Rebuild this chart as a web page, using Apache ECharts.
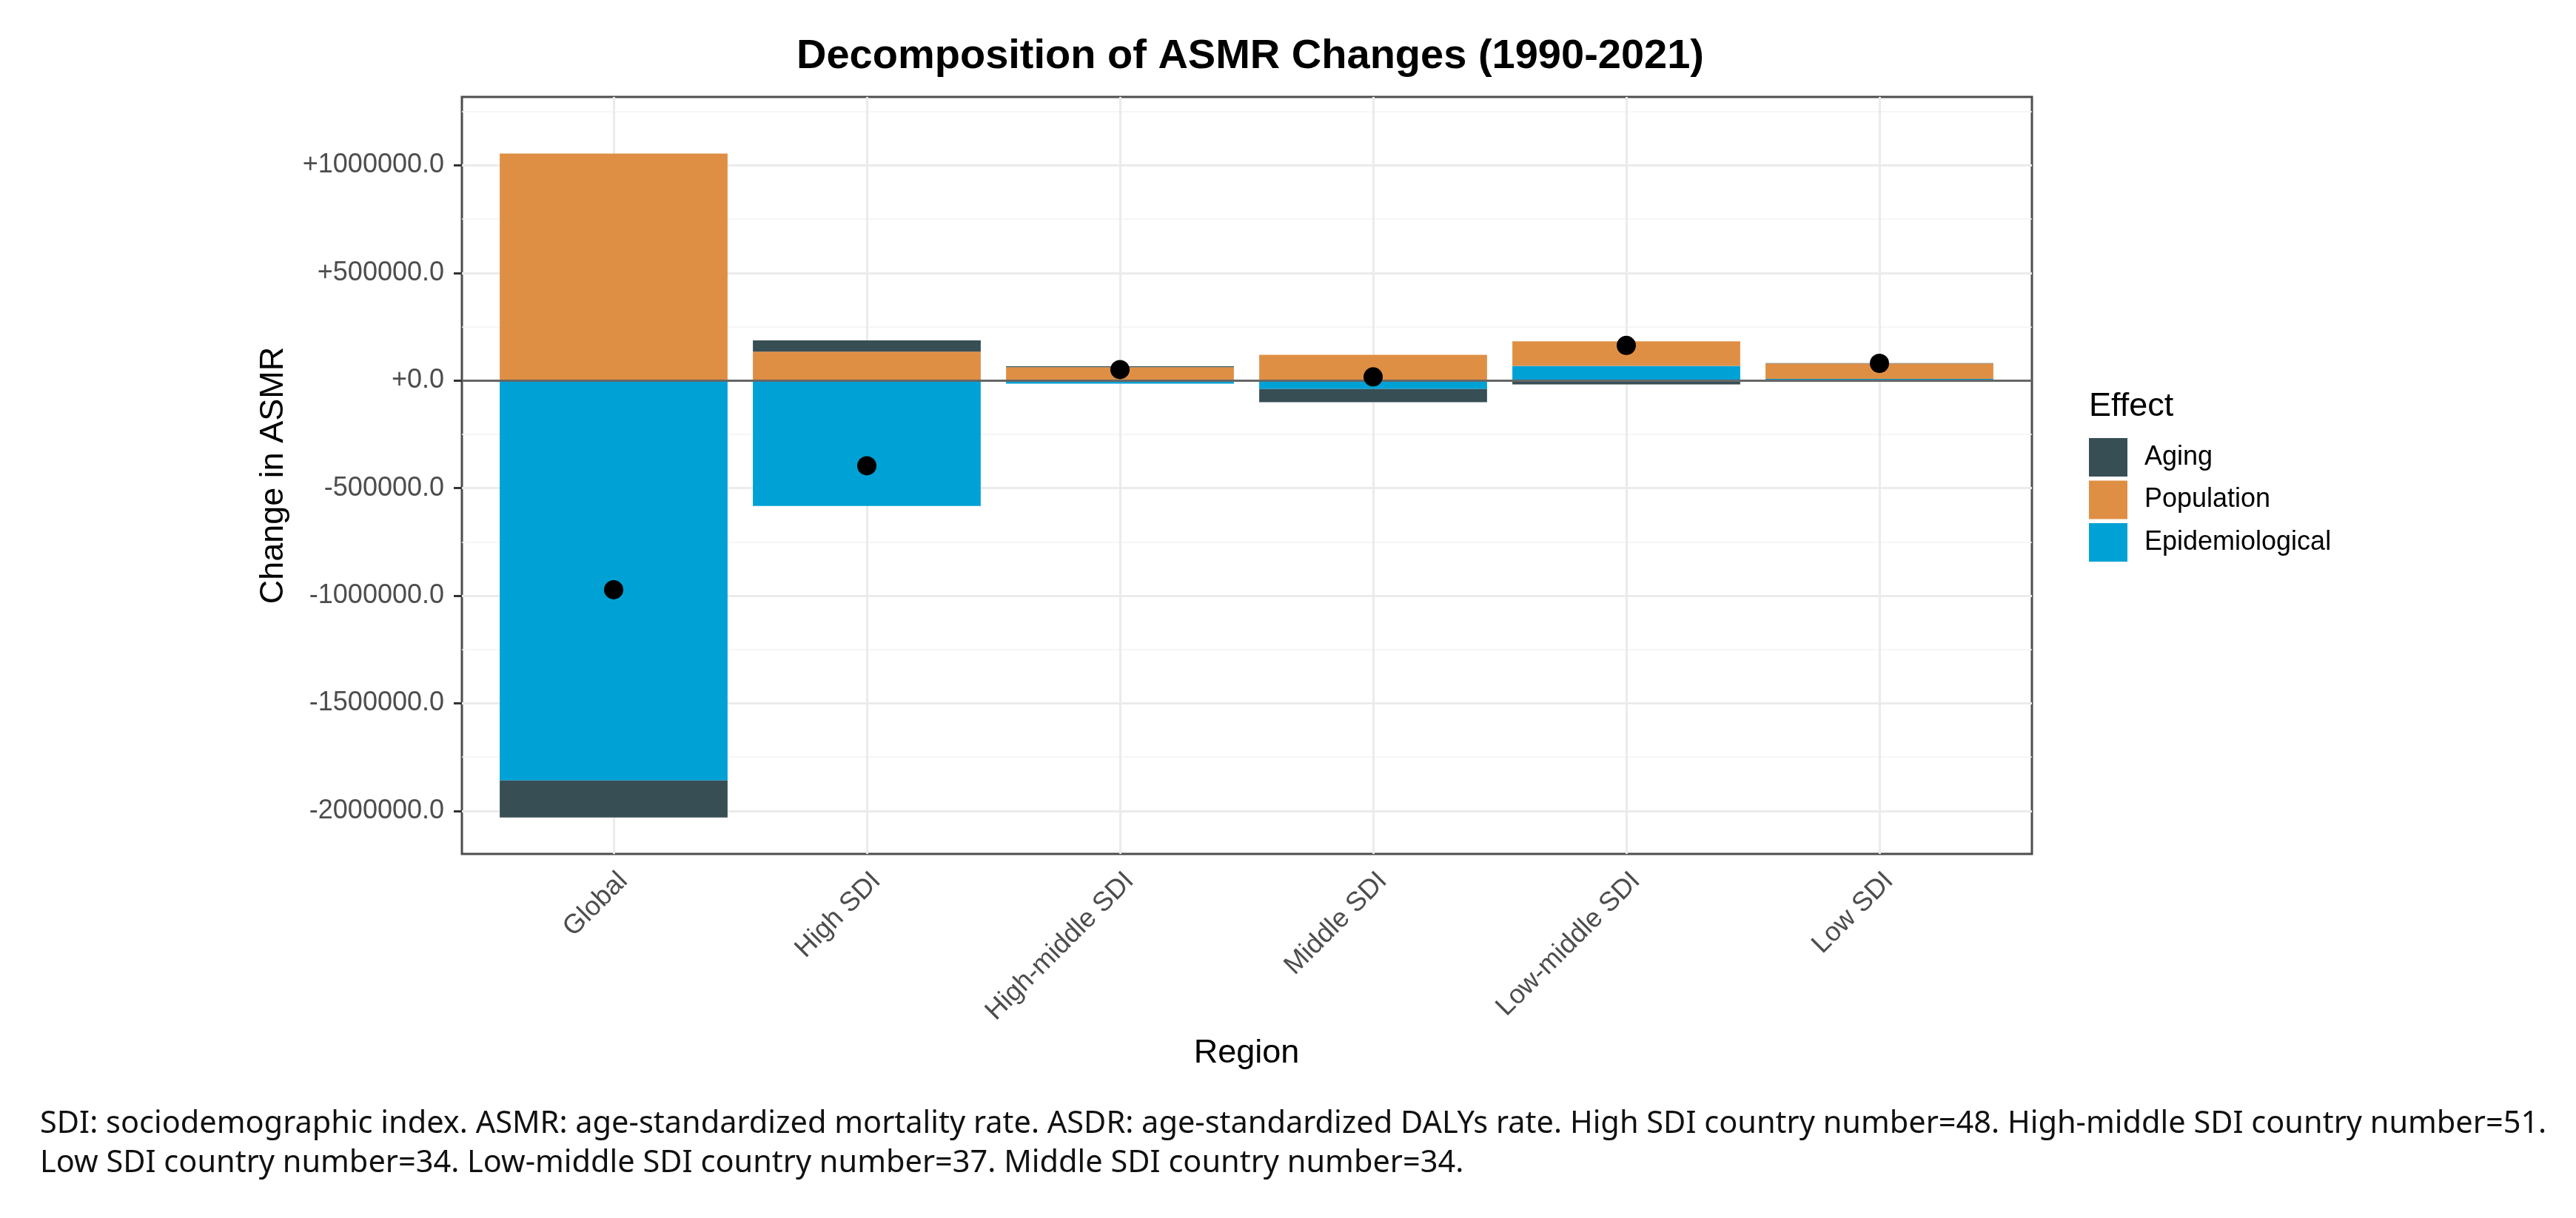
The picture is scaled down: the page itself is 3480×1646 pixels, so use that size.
<!DOCTYPE html>
<html>
<head>
<meta charset="utf-8">
<script src="https://cdn.jsdelivr.net/npm/echarts@6/dist/echarts.min.js"></script>
<style>
html,body{margin:0;padding:0;background:#fff;}
#c{width:3480px;height:1646px;}
</style>
</head>
<body>
<div id="c"></div>
<script>
const regions = ['Global', 'High SDI', 'High-middle SDI', 'Middle SDI', 'Low-middle SDI', 'Low SDI'];
const aging = [-171900, 52600, 4000, -60400, -18000, 1500];
const population = [1054600, 134400, 62000, 119600, 114500, 71000];
const epidemiological = [-1858700, -582500, -15000, -39900, 68000, 8000];
const totals = [-972000, -396000, 51000, 17000, 163000, 80000];
const yMajorTicks = [-2000000, -1500000, -1000000, -500000, 0, 500000, 1000000];
const yMinorTicks = [-1750000, -1250000, -750000, -250000, 250000, 750000, 1250000];
const captionLines = [
  'SDI: sociodemographic index. ASMR: age-standardized mortality rate. ASDR: age-standardized DALYs rate. High SDI country number=48. High-middle SDI country number=51.',
  'Low SDI country number=34. Low-middle SDI country number=37. Middle SDI country number=34.'
];

const FONT = 'Liberation Sans, Arial, sans-serif';
const colors = {Aging: '#374E55', Population: '#DF8F44', Epidemiological: '#00A1D5'};
const Y_MIN = -2200000, Y_MAX = 1318000;

const chart = echarts.init(document.getElementById('c'));
const barCommon = {type: 'bar', stack: 'effect', barWidth: '90%', z: 2, xAxisIndex: 0, yAxisIndex: 0};

chart.setOption({
  animation: false,
  backgroundColor: '#ffffff',
  title: [
    {text: 'Decomposition of ASMR Changes (1990-2021)', left: 1684, textAlign: 'center', top: 44,
     textStyle: {fontFamily: FONT, fontSize: 56, fontWeight: 'bold', color: '#000'}},
    {text: 'Effect', left: 2817, top: 522,
     textStyle: {fontFamily: FONT, fontSize: 45, fontWeight: 'normal', color: '#000'}},
    {text: captionLines.join('\n'), left: 49, top: 1488,
     textStyle: {fontFamily: 'Noto Sans, sans-serif', fontSize: 41.5, fontWeight: 'normal', color: '#111', lineHeight: 53}}
  ],
  legend: {
    data: ['Aging', 'Population', 'Epidemiological'],
    orient: 'vertical', left: 2817, top: 587,
    itemWidth: 52, itemHeight: 52, itemGap: 5.5, icon: 'rect',
    textStyle: {fontFamily: FONT, fontSize: 36, color: '#000', padding: [0, 0, 0, 18]},
    selectedMode: false
  },
  grid: [
    {left: 658, right: 770, top: 131, bottom: 492, show: false},
    {left: 624, right: 735, top: 131, bottom: 492, show: true, borderColor: '#4d4d4d', borderWidth: 3, backgroundColor: 'transparent'}
  ],
  xAxis: [
    {
      type: 'category', gridIndex: 0, data: regions, boundaryGap: true,
      name: 'Region', nameLocation: 'middle', nameGap: 247,
      nameTextStyle: {fontFamily: FONT, fontSize: 45, color: '#000'},
      axisLine: {show: false},
      axisTick: {show: true, alignWithLabel: true, length: 11, lineStyle: {color: '#333', width: 3}},
      axisLabel: {rotate: 45, margin: 18, interval: 0, fontFamily: FONT, fontSize: 36.5, color: '#4d4d4d',
        align: 'right', verticalAlign: 'top'},
      splitLine: {show: false}
    },
    {type: 'value', gridIndex: 1, min: 0, max: 1, show: false}
  ],
  yAxis: [
    {type: 'value', gridIndex: 0, min: Y_MIN, max: Y_MAX, show: false, splitLine: {show: false}},
    {
      type: 'value', gridIndex: 1, min: Y_MIN, max: Y_MAX,
      name: 'Change in ASMR', nameLocation: 'middle', nameGap: 232,
      nameTextStyle: {fontFamily: FONT, fontSize: 45, color: '#000'},
      axisLine: {show: false},
      axisTick: {show: true, customValues: yMajorTicks, length: 11, lineStyle: {color: '#333', width: 3}},
      axisLabel: {customValues: yMajorTicks, margin: 24, fontFamily: FONT, fontSize: 36, color: '#4d4d4d',
        formatter: v => (v >= 0 ? '+' : '') + Number(v).toFixed(1)},
      splitLine: {show: false}
    }
  ],
  series: [
    {
      name: 'hgrid', type: 'line', data: [], z: 0, silent: true, xAxisIndex: 1, yAxisIndex: 1,
      markLine: {
        silent: true, symbol: 'none', label: {show: false}, animation: false, z: 1,
        data: [].concat(
          yMinorTicks.map(v => ({yAxis: v, lineStyle: {color: '#f3f3f3', width: 1.5, type: 'solid'}})),
          yMajorTicks.map(v => ({yAxis: v, lineStyle: {color: '#ebebeb', width: 3, type: 'solid'}}))
        )
      }
    },
    {
      name: 'vgrid', type: 'line', data: [], z: 0, silent: true, xAxisIndex: 0, yAxisIndex: 0,
      markLine: {
        silent: true, symbol: 'none', label: {show: false}, animation: false, z: 1,
        data: regions.map(r => ({xAxis: r, lineStyle: {color: '#ebebeb', width: 3, type: 'solid'}}))
      }
    },
    Object.assign({name: 'Epidemiological', data: epidemiological, itemStyle: {color: colors.Epidemiological}}, barCommon),
    Object.assign({name: 'Population', data: population, itemStyle: {color: colors.Population}}, barCommon),
    Object.assign({name: 'Aging', data: aging, itemStyle: {color: colors.Aging}}, barCommon),
    {
      name: 'zero', type: 'line', data: [], z: 3, silent: true, xAxisIndex: 1, yAxisIndex: 1,
      markLine: {silent: true, symbol: 'none', label: {show: false}, animation: false, z: 3,
        data: [{yAxis: 0, lineStyle: {color: '#666', width: 3, type: 'solid'}}]}
    },
    {
      name: 'Total', type: 'scatter', data: totals, symbol: 'circle', symbolSize: 26, z: 6,
      xAxisIndex: 0, yAxisIndex: 0,
      itemStyle: {color: '#000', opacity: 1}
    }
  ]
});
</script>
</body>
</html>
